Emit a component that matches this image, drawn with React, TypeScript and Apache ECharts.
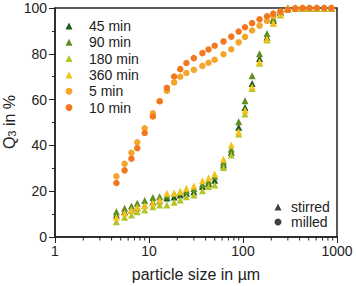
import React, { useEffect, useRef } from "react";
import * as echarts from "echarts";

const FONT = "'Liberation Sans', Arial, Helvetica, sans-serif";

// particle size classes (µm)
const sizes = [4.5, 5.5, 6.5, 7.5, 9, 11, 13, 15.5, 18.5, 21.5, 25, 30, 37, 43, 50, 62, 75, 90, 105, 125, 150, 180, 210, 250, 300, 360, 430, 510, 610, 730, 870];

// stirred (triangles), Q3 in %
const stirred45 = [9.6, 11.0, 11.8, 12.8, 13.8, 15.3, 15.8, 17.0, 17.5, 18.3, 19.1, 19.8, 22.0, 23.4, 24.8, 31.4, 37.0, 47.9, 56.5, 67.0, 77.9, 87.2, 94.5, 98.0, 99.8, 100, 100, 100, 100, 100, 100];
const stirred90 = [11.0, 12.6, 13.5, 14.7, 15.9, 17.3, 17.6, 18.0, 19.0, 19.8, 20.3, 21.2, 23.0, 24.5, 26.5, 32.8, 38.3, 50.3, 59.5, 70.4, 80.0, 88.9, 95.5, 98.4, 100, 100, 100, 100, 100, 100, 100];
const stirred180 = [6.7, 8.6, 9.6, 11.0, 11.8, 13.2, 14.0, 14.0, 15.2, 16.2, 17.6, 18.3, 20.2, 22.0, 22.7, 30.4, 35.8, 45.0, 53.7, 64.9, 75.9, 86.0, 93.3, 96.9, 99.5, 100, 100, 100, 100, 100, 100];
const stirred360 = [8.6, 10.5, 11.8, 13.0, 13.8, 14.9, 16.0, 19.1, 19.1, 19.8, 21.3, 22.3, 24.6, 25.8, 27.5, 34.0, 40.2, 46.0, 55.4, 65.5, 76.5, 86.5, 93.3, 97.5, 100, 100, 100, 100, 100, 100, 100];

// milled (circles), Q3 in %
const milled5 = [26.5, 32.0, 36.8, 41.4, 47.5, 54.0, 59.3, 63.8, 67.5, 70.0, 71.6, 73.0, 74.7, 76.1, 77.4, 79.8, 82.0, 85.0, 87.4, 90.2, 92.3, 94.3, 96.5, 98.2, 99.4, 100, 100, 100, 100, 100, 100];
const milled10 = [23.6, 29.1, 34.2, 38.8, 45.4, 52.6, 59.3, 65.1, 70.1, 73.3, 76.0, 78.1, 80.3, 81.9, 83.5, 85.4, 87.5, 89.7, 91.6, 93.4, 95.1, 96.4, 97.6, 98.5, 99.2, 99.7, 100, 100, 100, 100, 100];

const xTickLabels = ["1", "10", "100", "1000"];
const yTickLabels = ["0", "20", "40", "60", "80", "100"];
const xMinorTicks = [2, 3, 4, 5, 6, 7, 8, 9, 20, 30, 40, 50, 60, 70, 80, 90, 200, 300, 400, 500, 600, 700, 800, 900];

const seriesNames = ["45 min", "90 min", "180 min", "360 min", "5 min", "10 min"];
const seriesColors = ["#1f5a1f", "#5e8e22", "#b4c426", "#f4c21c", "#f4a52a", "#f2771e"];
const typeNames = ["stirred", "milled"];

const toPts = (vals: number[]) => vals.map((v, i) => [sizes[i], v]);

export default function App() {
  const ref = useRef<HTMLDivElement>(null);
  useEffect(() => {
    if (!ref.current) return;
    const chart = echarts.init(ref.current, null, { renderer: "svg" });
    const data = [stirred45, stirred90, stirred180, stirred360, milled5, milled10];
    const series: any[] = [];
    // minor ticks on the log x axis
    series.push({
      type: "custom",
      clip: false,
      silent: true,
      data: xMinorTicks.map((v) => [v, 0]),
      renderItem: (params: any, api: any) => {
        const p = api.coord([api.value(0), 0]);
        return {
          type: "line",
          shape: { x1: p[0], y1: p[1], x2: p[0], y2: p[1] + 3.5 },
          style: { stroke: "#222", lineWidth: 1 },
        };
      },
    });
    seriesNames.forEach((name, i) => {
      const tri = i < 4;
      series.push({
        name,
        type: "scatter",
        symbol: tri ? "triangle" : "circle",
        symbolSize: tri ? 7 : 6.5,
        itemStyle: { color: seriesColors[i], opacity: 1 },
        data: toPts(data[i]),
        z: tri ? 2 : 3,
      });
    });
    typeNames.forEach((name, i) => {
      series.push({
        name,
        type: "scatter",
        symbol: i === 0 ? "triangle" : "circle",
        symbolSize: 6,
        itemStyle: { color: "#111" },
        data: [],
      });
    });

    chart.setOption({
      animation: false,
      textStyle: { fontFamily: FONT },
      grid: {
        left: 55,
        right: 19,
        top: 8,
        bottom: 49,
        show: true,
        borderColor: "#222",
        borderWidth: 1.5,
      },
      xAxis: {
        type: "log",
        logBase: 10,
        min: 1,
        max: 1000,
        axisLine: { lineStyle: { color: "#222", width: 1.5 } },
        axisTick: { show: true, length: 6, lineStyle: { color: "#222", width: 1 } },
        axisLabel: {
          fontSize: 14,
          color: "#222",
          margin: 7,
          fontFamily: FONT,
          showMinLabel: true,
          showMaxLabel: true,
          formatter: (v: number) => xTickLabels[Math.round(Math.log10(v))] ?? "",
        },
        splitLine: { show: false },
      },
      yAxis: {
        type: "value",
        min: 0,
        max: 100,
        interval: 20,
        axisLine: { show: true, lineStyle: { color: "#222", width: 1.5 } },
        axisTick: { show: true, length: 6, lineStyle: { color: "#222", width: 1 } },
        minorTick: { show: true, splitNumber: 2, length: 3, lineStyle: { color: "#222", width: 1 } },
        axisLabel: {
          fontSize: 14,
          color: "#222",
          margin: 8,
          fontFamily: FONT,
          formatter: (v: number) => yTickLabels[Math.round(v / 20)] ?? "",
        },
        splitLine: { show: false },
      },
      legend: [
        {
          data: seriesNames,
          orient: "vertical",
          left: 60.5,
          top: 14,
          itemWidth: 7,
          itemHeight: 7,
          itemGap: 2.3,
          textStyle: { fontSize: 14, color: "#222", fontFamily: FONT, padding: [0, 0, 0, 11.5] },
          selectedMode: false,
        },
        {
          data: typeNames,
          orient: "vertical",
          left: 269.5,
          top: 195,
          itemWidth: 7,
          itemHeight: 7,
          itemGap: 1,
          textStyle: { fontSize: 14, color: "#222", fontFamily: FONT, padding: [0, 0, 0, 4.5] },
          selectedMode: false,
        },
      ],
      graphic: [
        {
          type: "text",
          x: 9,
          y: 122,
          rotation: Math.PI / 2,
          style: {
            text: "{a|Q}{s|3}{a| in %}",
            align: "center",
            verticalAlign: "middle",
            fill: "#222",
            rich: {
              a: { fontSize: 16, fontFamily: FONT, fill: "#222", verticalAlign: "bottom" },
              s: { fontSize: 11, fontFamily: FONT, fill: "#222", verticalAlign: "bottom", padding: [6, 0, 0, 0] },
            },
          },
        },
        {
          type: "text",
          x: 196,
          y: 274,
          style: {
            text: "particle size in µm",
            align: "center",
            verticalAlign: "middle",
            fontSize: 16,
            fontFamily: FONT,
            fill: "#222",
          },
        },
      ],
      series,
    });
    return () => chart.dispose();
  }, []);
  return (
    <div
      ref={ref}
      style={{ position: "fixed", left: 0, top: 0, width: 356, height: 286, background: "#fff" }}
    />
  );
}
